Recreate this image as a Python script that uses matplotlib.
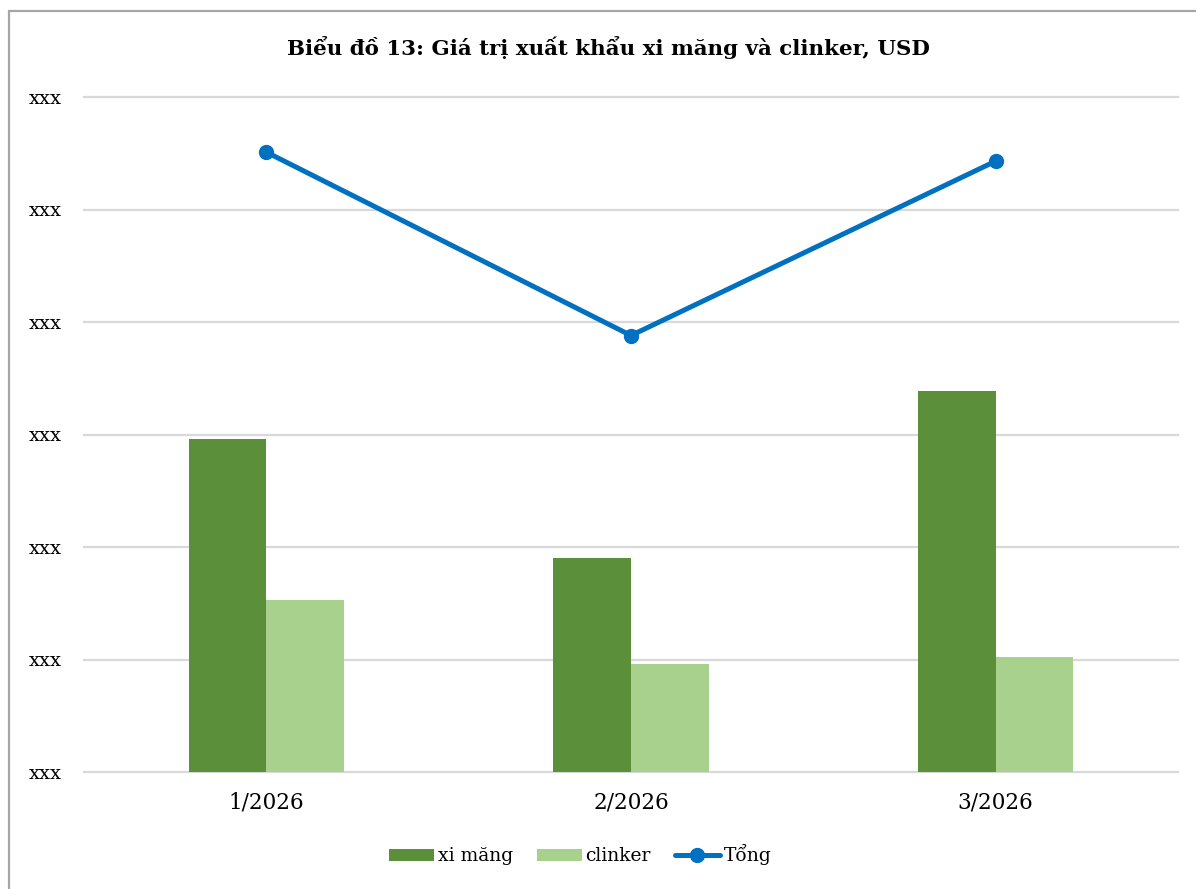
import matplotlib
matplotlib.use("Agg")
import matplotlib.pyplot as plt
import numpy as np
from matplotlib.patches import Rectangle

categories = ["1/2026", "2/2026", "3/2026"]
xi_mang = [2.96, 1.90, 3.39]
clinker = [1.53, 0.96, 1.02]
tong = [5.51, 3.88, 5.43]
ytick_vals = [0, 1, 2, 3, 4, 5, 6]
ytick_labels = ["xxx"] * 7
title = "Biểu đồ 13: Giá trị xuất khẩu xi măng và clinker, USD"
series_names = ["xi măng", "clinker", "Tổng"]

plt.rcParams['font.family'] = ['DejaVu Serif']

W, H = 1196, 889
fig = plt.figure(figsize=(W/100, H/100), dpi=100)
fig.patch.set_facecolor("white")

# chart border
fig.patches.append(Rectangle((9/W, 0 - 0.01), 1.1, 1 - 11/H + 0.01, transform=fig.transFigure,
                             fill=False, edgecolor="#A6A6A6", linewidth=1.6, zorder=0))

ax = fig.add_axes([84/W, 1 - 772/H, (1178-84)/W, (772-97)/H])
x = np.arange(len(categories))
bw = 0.213
b1 = ax.bar(x - bw/2, xi_mang, width=bw, color="#5B8F3A", label=series_names[0], zorder=2)
b2 = ax.bar(x + bw/2, clinker, width=bw, color="#A9D18E", label=series_names[1], zorder=2)
l1, = ax.plot(x, tong, color="#0070C0", lw=3.6, marker="o", markersize=10,
              label=series_names[2], zorder=3, solid_capstyle="round")

ax.set_xlim(-0.5, 2.5)
ax.set_ylim(0, 6)
ax.set_yticks(ytick_vals)
ax.set_yticklabels(ytick_labels, fontsize=14)
ax.set_xticks(x)
ax.set_xticklabels(categories, fontsize=15.5)
ax.tick_params(axis="both", length=0, colors="#000000")
ax.tick_params(axis="y", pad=16)
ax.tick_params(axis="x", pad=14)
ax.yaxis.grid(True, color="#D9D9D9", lw=1.6, zorder=0)
for gl in ax.get_ygridlines():
    gl.set_clip_on(False)
ax.set_axisbelow(True)
for s in ax.spines.values():
    s.set_visible(False)

fig.text(608/W, 1 - 48/H, title, ha="center", va="center", fontsize=15.4, fontweight="bold")

leg = fig.legend(handles=[b1, b2, l1], labels=series_names, loc="center",
                 bbox_to_anchor=(580/W, 1 - 855/H), ncol=3, frameon=False,
                 fontsize=13.5, handlelength=2.4, handleheight=0.66, columnspacing=1.28,
                 handletextpad=0.2)

fig.savefig("out.png", dpi=100)
